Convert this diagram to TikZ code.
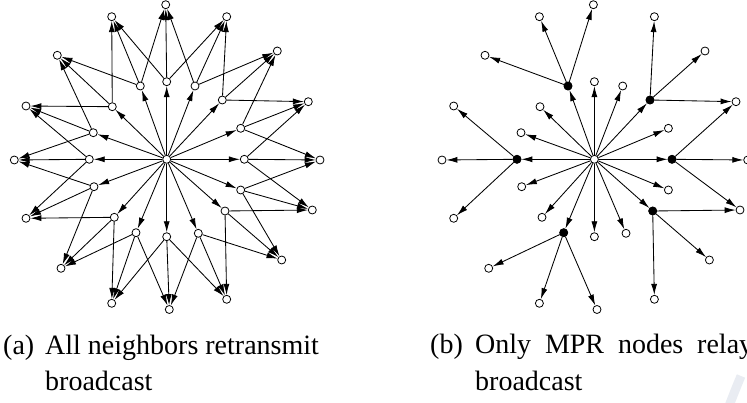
\documentclass[tikz,border=0pt]{standalone}
\usepackage{fontspec}
\setmainfont{Liberation Serif}
\usetikzlibrary{arrows.meta}
\tikzset{
  nd/.style={circle,draw,fill=white,minimum size=8pt,inner sep=0pt,line width=0.8pt},
  arr/.style={-{Latex[length=11pt,width=6pt]},line width=0.85pt},
  captxt/.style={anchor=base west,inner sep=0pt,font=\fontsize{28}{34}\selectfont}
}
\begin{document}
\begin{tikzpicture}[x=1pt,y=-1pt]
\useasboundingbox (0,0) rectangle (747,403);
% faint watermark arc
\draw[line width=9pt,color={rgb,255:red,233;green,236;blue,242}] (741,376) .. controls (736,388) .. (729,406);
\def\innerlist{244.3/159.3, 240.7/128.3, 222.3/100, 195/86, 166.7/81.7, 140.3/86, 112.3/106.7, 93.3/132.7, 89.3/159.3, 94/186.7, 114.3/217.3, 136/232.7, 166.7/236.7, 198.3/233.3, 225/211, 240.7/190}
\def\outerlist{320/160, 308.3/101.7, 277.3/51, 226.7/16.7, 165.7/4.7, 111.7/16.7, 57.3/55.3, 26/106, 14.3/160, 26/218.3, 61/268.3, 111.7/303.3, 169.3/309.5, 226.7/299.3, 281.7/260, 312.3/210}
\node[nd] (ac) at (166.7,159.3) {};
\node[nd] (bc) at (594.4,159.3) {};
\foreach [count=\k from 0] \x/\y in \innerlist {
  \node[nd] (ai\k) at (\x,\y) {};
  \node[nd] (bi\k) at (\x+427.7,\y) {};
}
\foreach [count=\k from 0] \x/\y in \outerlist {
  \node[nd] (ao\k) at (\x,\y) {};
  \node[nd] (bo\k) at (\x+427.7,\y) {};
}
% (a) all neighbours retransmit
\foreach \k in {0,...,15} {
  \draw[arr] (ac) -- (ai\k);
  \pgfmathtruncatemacro\km{mod(\k+15,16)}
  \pgfmathtruncatemacro\kp{mod(\k+1,16)}
  \draw[arr] (ai\k) -- (ao\km);
  \draw[arr] (ai\k) -- (ao\k);
  \draw[arr] (ai\k) -- (ao\kp);
}
% (b) only MPR nodes relay
\foreach \k in {0,...,15} {
  \draw[arr] (bc) -- (bi\k);
}
\foreach \k in {0,2,5,8,11,14} {
  \pgfmathtruncatemacro\km{mod(\k+15,16)}
  \pgfmathtruncatemacro\kp{mod(\k+1,16)}
  \draw[arr] (bi\k) -- (bo\km);
  \draw[arr] (bi\k) -- (bo\k);
  \draw[arr] (bi\k) -- (bo\kp);
  \fill (bi\k) circle[radius=4.3pt];
}
% captions
\node[captxt] (capa) at (3,354) {(a)};
\node[captxt] (capa1) at (45,354) {All neighbors retransmit};
\node[captxt] (capa2) at (45,390) {broadcast};
\node[captxt] (capb) at (430,353) {(b)};
\node[captxt] (capb1) at (475,353) {\makebox[278pt][s]{Only MPR nodes relay}};
\node[captxt] (capb2) at (475,390) {broadcast};
\end{tikzpicture}
\end{document}
